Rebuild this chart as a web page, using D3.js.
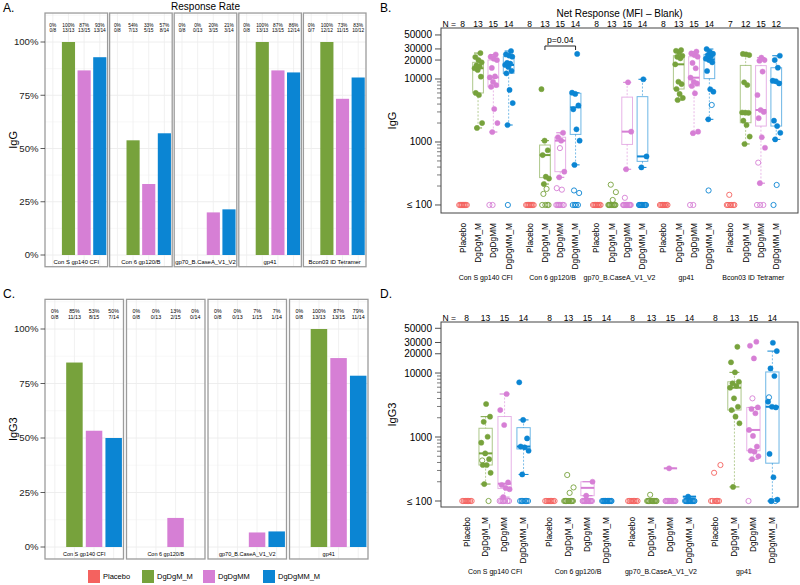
<!DOCTYPE html>
<html><head><meta charset="utf-8">
<script src="https://cdn.jsdelivr.net/npm/d3@7"></script>
<style>
body{margin:0;background:#fff}
svg{display:block}
text{font-family:"Liberation Sans",Arial,Helvetica,sans-serif}
</style>
</head><body>
<svg id="c" width="800" height="585"></svg>
<script>
// ---------------- DATA ----------------
const treatments = ["Placebo","DgDgM_M","DgDgMM","DgDgMM_M"];
const colors = ["#F4625F","#77A23C","#D67FD5","#0B85D3"];
const antigensIgG = ["Con S gp140 CFI","Con 6 gp120/B","gp70_B.CaseA_V1_V2","gp41","Bcon03 ID Tetramer"];
const antigensIgG3 = ["Con S gp140 CFI","Con 6 gp120/B","gp70_B.CaseA_V1_V2","gp41"];

// Response rate (responders / N) per antigen, per treatment
const iggResponders = [[0,13,13,13],[0,7,5,8],[0,0,3,3],[0,13,13,12],[0,12,11,10]];
const iggN          = [[8,13,15,14],[8,13,15,14],[8,13,15,14],[8,13,15,14],[7,12,15,12]];
const igg3Responders = [[0,11,8,7],[0,0,2,0],[0,0,1,1],[0,13,13,11]];
const igg3N          = [[8,13,15,14],[8,13,15,14],[8,13,15,14],[8,13,15,14]];

// Net MFI, responders (filled) and non-responders (open); 100 means "<= 100"
const IgG_ConS_resp = [[],
  [1670,2000,5570,6000,10900,13900,14800,15700,16500,18400,20000,22300,25800],
  [1440,2000,3340,7500,8000,9000,10600,11000,15000,20000,21000,22500,24500],
  [1860,4150,6700,12300,13500,15500,16700,17500,18000,22600,23500,24600,27800]];
const IgG_ConS_non = [[100,100,100,100,100,100,100,100],[],[100,100],[100]];
const IgG_Con6_resp = [[],
  [215,263,281,620,740,1050,6900],
  [275,338,1050,1190,1400],
  [433,1050,1590,3300,3800,5800,6060,25000]];
const IgG_Con6_non = [[100,100,100,100,100,100,100,100],
  [180,150,100,100,100,100],
  [800,185,175,100,100,100,100,100,100,100],
  [170,155,100,100,100,100]];
const IgG_gp70_resp = [[],[],[369,1460,8850],[395,590,9900]];
const IgG_gp70_non = [[100,100,100,100,100,100,100,100],
  [210,160,120,100,100,100,100,100,100,100,100,100,100],
  [130,100,100,100,100,100,100,100,100,100,100,100],
  [100,100,100,100,100,100,100,100,100,100,100]];
const IgG_gp41_resp = [[],
  [4640,5000,5800,6940,8300,9050,17100,21300,22500,23400,26500,28000,28800],
  [1380,1460,5930,7740,8500,9050,10500,14800,18000,22600,24000,25500,27200],
  [2290,6290,6870,13400,18400,20000,21000,23000,24000,25200,27000,29900]];
const IgG_gp41_non = [[100,100,100,100,100,100,100,100],[],[100,100],[3870,170]];
const IgG_Bcon_resp = [[],
  [930,1220,1860,2180,2900,2920,2940,8030,8850,24000,24600,25000],
  [222,810,1190,2390,3000,3220,5570,13100,19500,20000,21800],
  [1100,1400,1790,2180,8500,9200,9400,15100,20000,23400]];
const IgG_Bcon_non = [[145,100,100,100,100,100,100],[],[470,100,100,100],[208,100]];

const IgG3_ConS_resp = [[],
  [184,276,365,365,450,555,815,1010,1730,2080,3280],
  [115,153,160,178,195,1540,2640,4700],
  [260,610,690,710,950,1850,7150]];
const IgG3_ConS_non = [[100,100,100,100,100,100,100,100],[430,100],
  [100,100,100,100,100,100,100],[100,100,100,100,100,100,100]];
const IgG3_Con6_resp = [[],[],[121,200],[]];
const IgG3_Con6_non = [[100,100,100,100,100,100,100,100],
  [255,163,134,100,100,100,100,100,100,100,100,100,100],
  [100,100,100,100,100,100,100,100,100,100,100,100,100],
  [100,100,100,100,100,100,100,100,100,100,100,100,100,100]];
const IgG3_gp70_resp = [[],[],[324],[117]];
const IgG3_gp70_non = [[100,100,100,100,100,100,100,100],
  [125,100,100,100,100,100,100,100,100,100,100,100,100],
  [100,100,100,100,100,100,100,100,100,100,100,100,100,100],
  [100,100,100,100,100,100,100,100,100,100,100,100,100]];
const IgG3_gp41_resp = [[],
  [166,1640,2080,2640,2970,4020,5900,6300,6900,7300,10250,14700,25700],
  [450,500,590,610,710,1040,1290,2350,2740,2900,16900,26700,30800],
  [100,105,235,545,2900,2970,3560,8980,11800,22000,29700]];
const IgG3_gp41_non = [[276,365,100,100,100,100,100,100],[],[4020,100],[4170,100,100]];

const yTicksLog = [100,1000,10000,20000,30000,50000];
const yMinorLog = [200,300,400,500,600,700,800,900,2000,3000,4000,5000,6000,7000,8000,9000];
const yTicksRate = [0,0.25,0.5,0.75,1];

// ---------------- DRAW ----------------
const svg = d3.select("#c");

function txt(g, s, x, y, size, opts={}) {
  const t = g.append("text").attr("x", x).attr("y", y).attr("font-size", size)
    .attr("fill", opts.fill || "#000").attr("text-anchor", opts.anchor || "middle").text(s);
  if (opts.dy) t.attr("dy", opts.dy);
  if (opts.rot) t.attr("transform", `rotate(${opts.rot},${x},${y})`);
  return t;
}

function drawRate(antigens, resp, N, L) {
  const g = svg.append("g");
  const y = d3.scaleLinear().domain([0,1]).range([L.y0, L.y1]);
  const fx = d3.scaleBand().domain(antigens).range([L.xl, L.xr]).paddingInner(L.facetPad);
  const tx = d3.scaleBand().domain(treatments).range([0, fx.bandwidth()]).paddingInner(0.16).paddingOuter(0.08);
  const top = y(1.136), bot = y(-0.055), w = fx.bandwidth();
  antigens.forEach((a, i) => {
    const fg = g.append("g").attr("transform", `translate(${fx(a)},0)`);
    fg.append("rect").attr("x",0).attr("y",top).attr("width",w).attr("height",bot-top).attr("fill","#fff");
    [0.125,0.375,0.625,0.875,1.125].forEach(v => fg.append("line").attr("x1",0).attr("x2",w)
      .attr("y1",y(v)).attr("y2",y(v)).attr("stroke","#F4F4F4").attr("stroke-width",0.6));
    yTicksRate.forEach(v => fg.append("line").attr("x1",0).attr("x2",w)
      .attr("y1",y(v)).attr("y2",y(v)).attr("stroke","#EAEAEA").attr("stroke-width",0.8));
    treatments.forEach(t => fg.append("line").attr("x1",tx(t)+tx.bandwidth()/2).attr("x2",tx(t)+tx.bandwidth()/2)
      .attr("y1",top).attr("y2",bot).attr("stroke","#EDEDED").attr("stroke-width",0.8));
    const rows = treatments.map((t,j) => ({t, j, r: resp[i][j], n: N[i][j]}));
    fg.selectAll("rect.bar").data(rows.filter(d => d.r > 0)).join("rect").attr("class","bar")
      .attr("x", d => tx(d.t)).attr("width", tx.bandwidth())
      .attr("y", d => y(d.r/d.n)).attr("height", d => y(0) - y(d.r/d.n))
      .attr("fill", d => colors[d.j]);
    rows.forEach(d => {
      const cx = tx(d.t) + tx.bandwidth()/2;
      txt(fg, Math.round(100*d.r/d.n) + "%", cx, y(1.08), L.lab, {dy:"0.35em"});
      txt(fg, d.r + "/" + d.n, cx, y(1.055), L.lab, {dy:"0.35em"});
    });
    txt(fg, a, w/2, y(-0.033), L.strip, {dy:"0.35em"});
    fg.append("rect").attr("x",0).attr("y",top).attr("width",w).attr("height",bot-top)
      .attr("fill","none").attr("stroke","#9C9C9C").attr("stroke-width",1.3);
  });
  yTicksRate.forEach(v => {
    g.append("line").attr("x1",L.xl-4.5).attr("x2",L.xl).attr("y1",y(v)).attr("y2",y(v)).attr("stroke","#333").attr("stroke-width",0.8);
    txt(g, d3.format(".0%")(v), L.xl-6.5, y(v), 9.6, {anchor:"end", dy:"0.35em", fill:"#222"});
  });
  txt(g, L.title, 13, (top+bot)/2, 11, {rot:-90, dy:"0.35em"});
}

function fivenum(a) {
  const x = a.slice().sort((p,q) => p-q), n = x.length;
  const n4 = Math.floor((n+3)/2)/2;
  return [1, n4, (n+1)/2, n+1-n4, n].map(v => 0.5*(x[Math.floor(v)-1] + x[Math.ceil(v)-1]));
}

function jit(k) { return ((k*0.618034 + 0.37) % 1)*2 - 1; }

function drawNet(antigens, posArr, negArr, L) {
  const g = svg.append("g");
  const gapU = 0.37, nG = antigens.length;
  const maxU = (nG-1)*(4+gapU) + 3;
  const x = d3.scaleLinear().domain([-L.margin, maxU + L.margin]).range([L.xl, L.xr]);
  const y = d3.scaleLog().domain(L.yDomain).range([L.yb, L.yt]);
  const step = x(1) - x(0);
  const px = (gi, ti) => x(gi*(4+gapU) + ti);
  const yc = v => y(Math.max(v, 100));
  const bw = step*0.7, cw = bw*0.75;

  // axis
  yTicksLog.forEach(v => {
    g.append("line").attr("x1",L.xl-6).attr("x2",L.xl).attr("y1",y(v)).attr("y2",y(v)).attr("stroke","#222").attr("stroke-width",0.8);
    txt(g, v === 100 ? "\u2264 100" : String(v), L.xl-9, y(v), 10, {anchor:"end", dy:"0.35em"});
  });
  yMinorLog.forEach(v => g.append("line").attr("x1",L.xl-4).attr("x2",L.xl).attr("y1",y(v)).attr("y2",y(v)).attr("stroke","#222").attr("stroke-width",0.6));
  txt(g, L.title, 392, (L.yt+L.yb)/2, 11, {rot:-90, dy:"0.35em"});

  txt(g, "N =", 456, L.nY, 8.5, {anchor:"end", dy:"0.35em"});
  antigens.forEach((a, gi) => {
    treatments.forEach((t, ti) => {
      const cx = px(gi, ti);
      const pos = posArr[gi][ti], neg = negArr[gi][ti];
      txt(g, pos.length + neg.length, cx, L.nY, 8.5, {dy:"0.35em"});
      txt(g, t, cx, L.labTop, 8.3, {anchor:"end", rot:-90, dy:"0.35em"});
      const col = colors[ti];
      if (pos.length) {
        const f = fivenum(pos);
        const iqr = f[3]-f[1];
        const lo = d3.min(pos.filter(v => v >= f[1]-1.5*iqr));
        const hi = d3.max(pos.filter(v => v <= f[3]+1.5*iqr));
        const wl = (y1, y2) => g.append("line").attr("x1",cx).attr("x2",cx).attr("y1",y1).attr("y2",y2)
          .attr("stroke",col).attr("stroke-opacity",0.6).attr("stroke-dasharray","2,1.6").attr("stroke-width",0.9);
        wl(yc(hi), yc(f[3])); wl(yc(f[1]), yc(lo));
        [lo, hi].forEach(v => g.append("line").attr("x1",cx-cw/2).attr("x2",cx+cw/2).attr("y1",yc(v)).attr("y2",yc(v))
          .attr("stroke",col).attr("stroke-width",1));
        g.append("rect").attr("x",cx-bw/2).attr("width",bw).attr("y",yc(f[3])).attr("height",Math.max(0,yc(f[1])-yc(f[3])))
          .attr("fill","none").attr("stroke",col).attr("stroke-opacity",0.6).attr("stroke-width",1);
        g.append("line").attr("x1",cx-bw/2).attr("x2",cx+bw/2).attr("y1",yc(f[2])).attr("y2",yc(f[2]))
          .attr("stroke",col).attr("stroke-width",2);
      }
      const pts = pos.map(v => ({v, f:true})).concat(neg.map(v => ({v, f:false})));
      pts.forEach((p, k) => {
        g.append("circle").attr("cx", cx + jit(k)*step*0.27).attr("cy", yc(p.v)).attr("r", 2.6)
          .attr("fill", p.f ? col : "none").attr("stroke", col).attr("stroke-width", p.f ? 0.5 : 0.9);
      });
    });
    txt(g, a, px(gi, 1.5), L.grpY, 7, {dy:"0.35em"});
  });
  g.append("rect").attr("x",L.xl).attr("y",L.yt).attr("width",L.xr-L.xl).attr("height",L.yb-L.yt)
    .attr("fill","none").attr("stroke","#444").attr("stroke-width",1);
  if (L.bracket) {
    const [gi, t1, t2, label] = L.bracket;
    const x1 = px(gi, t1), x2 = px(gi, t2), by = L.yt + 18;
    g.append("path").attr("d", `M${x1},${by+4}V${by}H${x2}V${by+4}`).attr("fill","none").attr("stroke","#222").attr("stroke-width",1);
    txt(g, label, (x1+x2)/2, by-6, 8.6, {dy:"0.35em"});
  }
}

// letters and titles
[["A.",3,11.5],["B.",380,11.5],["C.",3,297.5],["D.",380,297.5]].forEach(d => txt(svg, d[0], d[1], d[2], 12, {anchor:"start"}));
txt(svg, "Response Rate", 205.5, 10, 10);
txt(svg, "Net Response (MFI \u2013 Blank)", 619.5, 16.5, 10);

drawRate(antigensIgG, iggResponders, iggN, {xl:45, xr:366, y0:255, y1:42, facetPad:0.031, lab:4.8, strip:5.9, title:"IgG"});
drawRate(antigensIgG3, igg3Responders, igg3N, {xl:45, xr:368, y0:547, y1:329, facetPad:0.037, lab:5.3, strip:5.5, title:"IgG3"});

drawNet(antigensIgG,
  [IgG_ConS_resp, IgG_Con6_resp, IgG_gp70_resp, IgG_gp41_resp, IgG_Bcon_resp],
  [IgG_ConS_non, IgG_Con6_non, IgG_gp70_non, IgG_gp41_non, IgG_Bcon_non],
  {xl:441, xr:798, yt:28, yb:213, yDomain:[74.6, 64500], margin:1.42, nY:24.5, labTop:223, grpY:278, title:"IgG", bracket:[1,1,3,"p=0.04"]});
drawNet(antigensIgG3,
  [IgG3_ConS_resp, IgG3_Con6_resp, IgG3_gp70_resp, IgG3_gp41_resp],
  [IgG3_ConS_non, IgG3_Con6_non, IgG3_gp70_non, IgG3_gp41_non],
  {xl:441, xr:798, yt:322, yb:507, yDomain:[80.6, 62700], margin:1.35, nY:318, labTop:517, grpY:572, title:"IgG3"});

// legend
const legX = [88, 142, 203, 263];
treatments.forEach((t, i) => {
  svg.append("rect").attr("x", legX[i]).attr("y", 570).attr("width", 12).attr("height", 13).attr("fill", colors[i]);
  txt(svg, t, legX[i]+15, 576.5, 7.5, {anchor:"start", dy:"0.35em"});
});
</script>
</body></html>
